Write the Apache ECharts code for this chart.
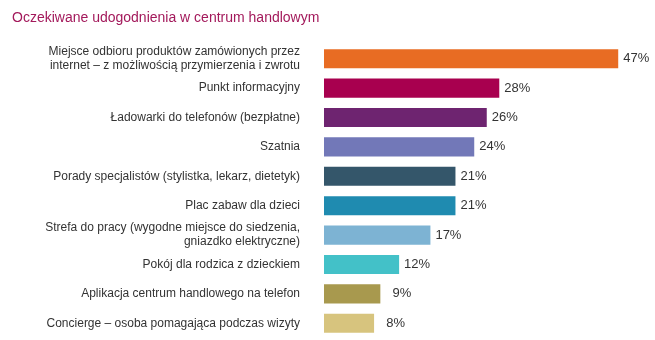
<!DOCTYPE html>
<html><head><meta charset="utf-8">
<script src="https://cdn.jsdelivr.net/npm/echarts@6/dist/echarts.min.js"></script>
<style>html,body{margin:0;padding:0;background:#fff}#c{width:655px;height:340px}</style>
</head><body><div id="c"></div>
<script>
const title = "Oczekiwane udogodnienia w centrum handlowym";
const categories = [
  "Miejsce odbioru produktów zamówionych przez\ninternet – z możliwością przymierzenia i zwrotu",
  "Punkt informacyjny",
  "Ładowarki do telefonów (bezpłatne)",
  "Szatnia",
  "Porady specjalistów (stylistka, lekarz, dietetyk)",
  "Plac zabaw dla dzieci",
  "Strefa do pracy (wygodne miejsce do siedzenia,\ngniazdko elektryczne)",
  "Pokój dla rodzica z dzieckiem",
  "Aplikacja centrum handlowego na telefon",
  "Concierge – osoba pomagająca podczas wizyty"
];
const values = [47, 28, 26, 24, 21, 21, 17, 12, 9, 8];
const colors = ["#E86C23", "#A8004F", "#6E2470", "#7278B8", "#34566A", "#1F8BB0", "#7DB3D3", "#43C1C8", "#A8994E", "#D7C47E"];

const chart = echarts.init(document.getElementById('c'));
chart.setOption({
  animation: false,
  title: {
    text: title, left: 7, top: 6,
    textStyle: { color: '#A3195B', fontSize: 14, fontWeight: 'normal', fontFamily: 'Liberation Sans, Arial, sans-serif' }
  },
  grid: { left: 324, right: 18, top: 44, bottom: 2, containLabel: false },
  xAxis: { type: 'value', min: 0, max: 50, show: false },
  yAxis: {
    type: 'category', inverse: true, data: categories,
    axisLine: { show: false }, axisTick: { show: false },
    axisLabel: { margin: 24, fontSize: 12, lineHeight: 14, color: '#333', fontFamily: 'Liberation Sans, Arial, sans-serif', align: 'right' }
  },
  series: [{
    type: 'bar',
    data: values.map((v, i) => ({ value: v, itemStyle: { color: colors[i] } })),
    barCategoryGap: '35%',
    label: {
      show: true, position: 'right', distance: 31, align: 'right',
      formatter: '{c}%', fontSize: 13, color: '#333', fontFamily: 'Liberation Sans, Arial, sans-serif'
    }
  }]
});
</script></body></html>
